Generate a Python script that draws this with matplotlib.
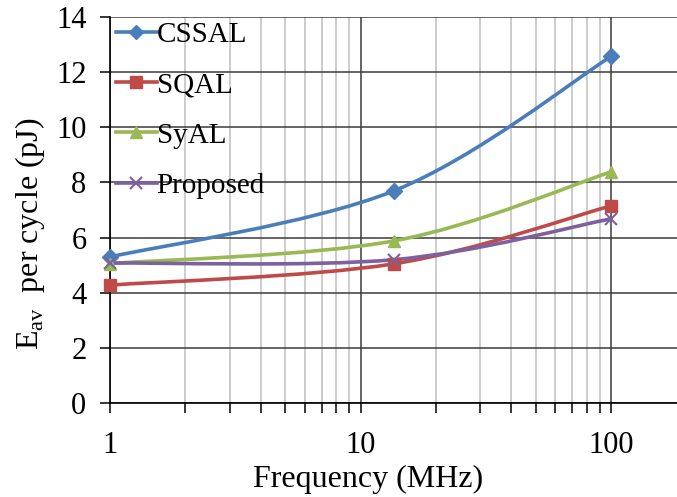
import numpy as np
import matplotlib
matplotlib.use("Agg")
from matplotlib import pyplot as plt
from matplotlib.path import Path
from matplotlib.patches import PathPatch
from matplotlib.lines import Line2D
from matplotlib.ticker import LogLocator, NullFormatter, FixedLocator, FixedFormatter

# Data
freq = [1, 13.56, 100]
series_names = ["CSSAL", "SQAL", "SyAL", "Proposed"]
cssal = [5.30, 7.69, 12.56]
sqal = [4.28, 5.05, 7.15]
syal = [5.06, 5.88, 8.38]
proposed = [5.08, 5.20, 6.68]
y_ticks = [0, 2, 4, 6, 8, 10, 12, 14]
x_ticks = [1, 10, 100]
x_tick_labels = ["1", "10", "100"]

colors = ["#4A7EBB", "#BE4B48", "#98B954", "#7D60A0"]
markers = ["D", "s", "^", "x"]
msizes = [8, 9, 9, 9]

plt.rcParams["font.family"] = ["Liberation Serif", "DejaVu Serif"]
plt.rcParams["mathtext.fontset"] = "custom"
plt.rcParams["mathtext.rm"] = "Liberation Serif"


def smooth_path(xs, ys):
    # Excel-style smoothed line: cubic bezier segments, control points in log-x space
    lx = np.log10(xs)
    ys = np.asarray(ys, dtype=float)
    pts = np.column_stack([lx, ys])
    n = len(pts)
    verts = [pts[0]]
    codes = [Path.MOVETO]
    for i in range(n - 1):
        p_prev = pts[max(i - 1, 0)]
        p0 = pts[i]
        p1 = pts[i + 1]
        p_next = pts[min(i + 2, n - 1)]
        c1 = p0 + (p1 - p_prev) / 6.0
        c2 = p1 - (p_next - p0) / 6.0
        verts += [c1, c2, p1]
        codes += [Path.CURVE4] * 3
    verts = np.array(verts)
    verts[:, 0] = 10 ** verts[:, 0]
    return Path(verts, codes)


fig = plt.figure(figsize=(6.77, 4.97), dpi=100)
ax = fig.add_axes([0.1625, 0.1885, 0.8375, 0.7779])
ax.set_xscale("log")
ax.set_xlim(1, 10 ** ((677 - 110) / 250.5))
ax.set_ylim(0, 14)

# grid
ax.xaxis.set_minor_locator(LogLocator(base=10, subs=np.arange(2, 10)))
ax.xaxis.set_minor_formatter(NullFormatter())
ax.grid(which="minor", axis="x", color="#BEBEBE", lw=1.1)
ax.grid(which="major", axis="both", color="#3A3A3A", lw=1.1)
ax.set_axisbelow(True)

ax.xaxis.set_major_locator(FixedLocator(x_ticks))
ax.xaxis.set_major_formatter(FixedFormatter(x_tick_labels))
ax.set_yticks(y_ticks)

for sp in ["top", "right"]:
    ax.spines[sp].set_visible(False)
for sp in ["left", "bottom"]:
    ax.spines[sp].set_color("black")
    ax.spines[sp].set_linewidth(1.2)

ax.tick_params(axis="y", which="major", direction="out", length=7, width=1.1,
               pad=10, labelsize=22)
ax.tick_params(axis="x", which="major", direction="out", length=7, width=1.1,
               pad=13, labelsize=22)
ax.tick_params(axis="x", which="minor", direction="out", length=7, width=1.1)

all_series = [cssal, sqal, syal, proposed]
handles = []
for name, vals, c, m, ms in zip(series_names, all_series, colors, markers, msizes):
    patch = PathPatch(smooth_path(freq, vals), facecolor="none", edgecolor=c,
                      lw=2.6, capstyle="round", joinstyle="round", zorder=3)
    ax.add_patch(patch)
    ax.plot(freq, vals, ls="none", marker=m, color=c, ms=ms, mew=1.5 if m == "x" else 1,
            zorder=4, clip_on=False)
    handles.append(Line2D([], [], color=c, lw=2.6, marker=m, ms=ms - 1,
                          mew=1.5 if m == "x" else 1))

ax.legend(handles, series_names, loc="upper left", bbox_to_anchor=(0.005, 0.995),
          frameon=False, fontsize=21, handlelength=1.4, handletextpad=0.0,
          labelspacing=0.82, borderaxespad=0.0, borderpad=0.1)

ax.set_xlabel("Frequency (MHz)", fontsize=23)
ax.xaxis.set_label_coords(0.455, -0.16)
ax.set_ylabel(r"E$_{\mathrm{av}}$  per cycle (pJ)", fontsize=23)
ax.yaxis.set_label_coords(-0.112, 0.438)

fig.savefig("out.png", dpi=100)
